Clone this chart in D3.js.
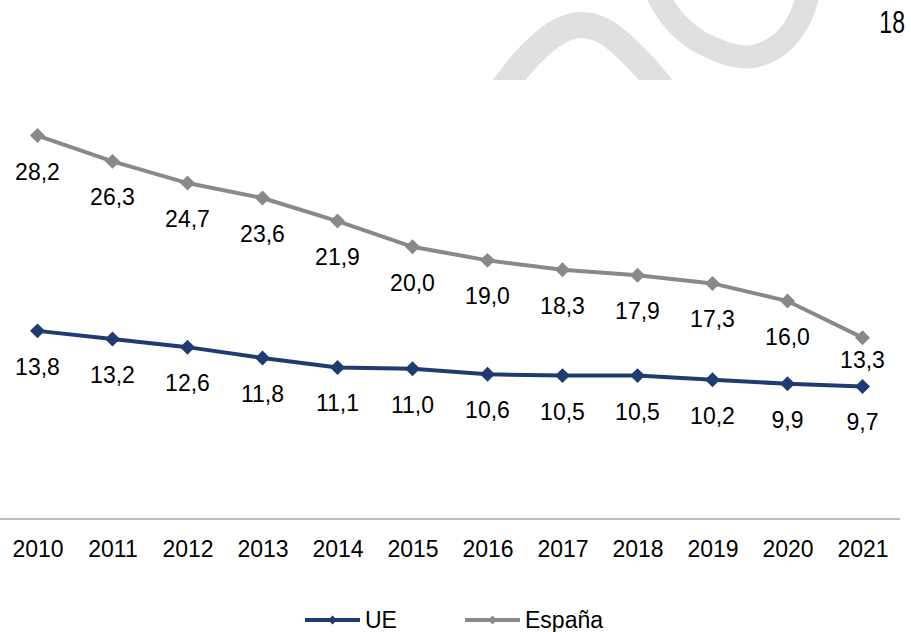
<!DOCTYPE html>
<html>
<head>
<meta charset="utf-8">
<script src="https://cdn.jsdelivr.net/npm/d3@7"></script>
<style>
  body { margin: 0; background: #fff; }
  text { font-family: "Liberation Sans", Arial, sans-serif; fill: #000; }
  .eje path, .eje line { display: none; }
</style>
</head>
<body>
<div id="graf"></div>
<script>
// datos
anios  = ['2010','2011','2012','2013','2014','2015','2016','2017','2018','2019','2020','2021']
valoresUE     = [13.8, 13.2, 12.6, 11.8, 11.1, 11.0, 10.6, 10.5, 10.5, 10.2, 9.9, 9.7]
valoresEspana = [28.2, 26.3, 24.7, 23.6, 21.9, 20.0, 19.0, 18.3, 17.9, 17.3, 16.0, 13.3]
series = ['UE', 'España']
colores = ['#1f3b70', '#898989']
numeroPagina = '18'

ancho_total = 911
alto_total = 632

svg = d3.select('#graf').append('svg')
        .attr('width', ancho_total)
        .attr('height', alto_total)

// marca de agua (decorativa)
svg.append('clipPath').attr('id', 'corte')
  .append('rect').attr('x', 0).attr('y', 0).attr('width', ancho_total).attr('height', 80)

marca = svg.append('g').attr('clip-path', 'url(#corte)')
curva = d3.line().curve(d3.curveCatmullRom)
marca.append('path')
  .attr('d', curva([[494, 100], [530, 55], [558, 32], [580, 25], [604, 31], [636, 58], [672, 100]]))
  .attr('fill', 'none').attr('stroke', '#e0e0e0').attr('stroke-width', 26)
marca.append('path')
  .attr('d', curva([[655, -10], [672, 18], [700, 42], [747, 57], [780, 44], [800, 18], [809, -10]]))
  .attr('fill', 'none').attr('stroke', '#e0e0e0').attr('stroke-width', 23)

// numero de pagina (letra estrecha)
svg.append('text')
  .attr('transform', 'translate(905, 33) scale(0.72, 1)')
  .attr('text-anchor', 'end')
  .style('font-size', '32px')
  .text(numeroPagina)

// escalas
x = d3.scalePoint()
      .domain(anios)
      .range([37.5, 862.5])

y = d3.scaleLinear()
      .domain([0, 30])
      .range([518, 111.2])

// eje x
svg.append('line')
  .attr('x1', 0).attr('x2', 900)
  .attr('y1', y(0) + 1).attr('y2', y(0) + 1)
  .attr('stroke', '#a6a6a6').attr('stroke-width', 1.5)

ejeX = svg.append('g')
        .attr('class', 'eje')
        .attr('transform', `translate(0, ${ y(0) })`)
        .call(d3.axisBottom(x).tickSize(0).tickPadding(23))
ejeX.selectAll('text')
  .style('font-size', '23px')
  .attr('fill', '#000')

// lineas
linea = d3.line()
          .x((d, i) => x(anios[i]))
          .y(d => y(d))

rombo = d3.symbol(d3.symbolSquare, 112)
formato = v => d3.format('.1f')(v).replace('.', ',')

datos = [valoresUE, valoresEspana]

datos.forEach((valores, s) => {
  g = svg.append('g')
  g.append('path')
    .datum(valores)
    .attr('d', linea)
    .attr('fill', 'none')
    .attr('stroke', colores[s])
    .attr('stroke-width', 4)

  g.selectAll('path.punto')
    .data(valores)
    .enter()
    .append('path')
      .attr('class', 'punto')
      .attr('d', rombo)
      .attr('transform', (d, i) => `translate(${ x(anios[i]) }, ${ y(d) }) rotate(45)`)
      .attr('fill', colores[s])

  // etiquetas de datos (la ultima de España va mas arriba para no pisar la otra linea)
  g.selectAll('text.etiqueta')
    .data(valores)
    .enter()
    .append('text')
      .attr('class', 'etiqueta')
      .attr('x', (d, i) => x(anios[i]))
      .attr('y', (d, i) => y(d) + ((s == 1 && i == valores.length - 1) ? 30 : 44))
      .attr('text-anchor', 'middle')
      .style('font-size', '23px')
      .text(d => formato(d))
})

// leyenda
leyX = [305, 465]
series.forEach((d, i) => {
  svg.append('line')
    .attr('x1', leyX[i]).attr('x2', leyX[i] + 55)
    .attr('y1', 620).attr('y2', 620)
    .attr('stroke', colores[i]).attr('stroke-width', 4)
  svg.append('path')
    .attr('d', d3.symbol(d3.symbolSquare, 40))
    .attr('transform', `translate(${ leyX[i] + 27.5 }, 620) rotate(45)`)
    .attr('fill', colores[i])
  svg.append('text')
    .attr('x', leyX[i] + 60)
    .attr('y', 628)
    .style('font-size', '23px')
    .text(d)
})
</script>
</body>
</html>
